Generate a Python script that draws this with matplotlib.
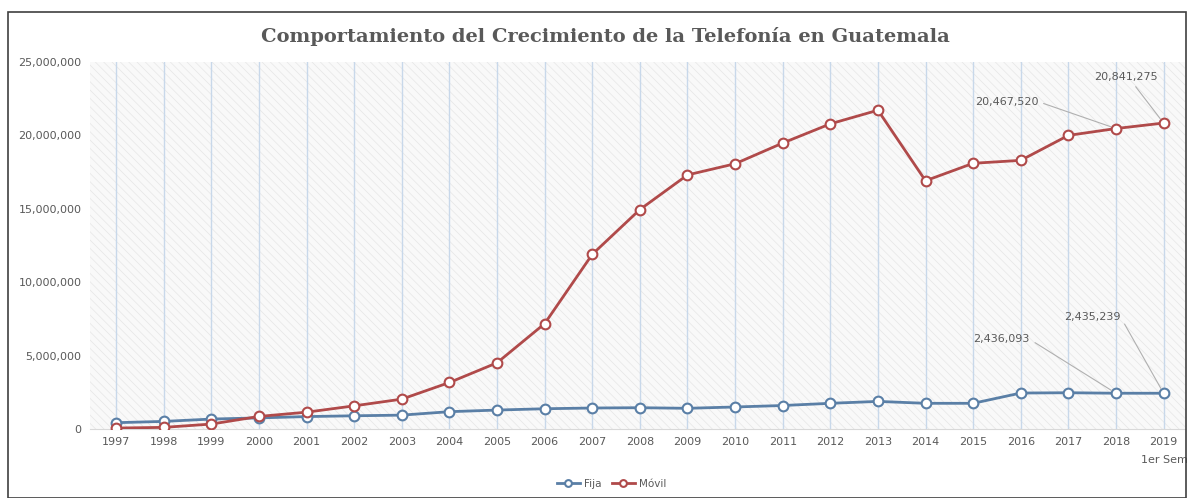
import numpy as np
import matplotlib
matplotlib.use('Agg')
import matplotlib.pyplot as plt
from matplotlib.patches import Rectangle
from matplotlib.ticker import FuncFormatter

# data
years = ['1997', '1998', '1999', '2000', '2001', '2002', '2003', '2004', '2005',
         '2006', '2007', '2008', '2009', '2010', '2011', '2012', '2013', '2014',
         '2015', '2016', '2017', '2018', '2019']
last_note = '1er Sem'
fija = [430000, 517000, 677000, 756000, 846000, 900000, 945000, 1180000, 1290000,
        1380000, 1430000, 1450000, 1410000, 1500000, 1600000, 1750000, 1880000,
        1750000, 1750000, 2450000, 2470000, 2436093, 2435239]
movil = [64000, 111000, 337000, 856000, 1146000, 1577000, 2035000, 3168000, 4510000,
         7178000, 11898000, 14949000, 17307000, 18068000, 19479000, 20787000, 21716000,
         16911000, 18100000, 18300000, 20000000, 20467520, 20841275]

col_fija = '#5a7fa6'
col_movil = '#b04a4a'
txt_col = '#595959'

matplotlib.rcParams['hatch.linewidth'] = 0.5
matplotlib.rcParams['hatch.color'] = '#e6e6e6'

fig = plt.figure(figsize=(11.92, 4.98), dpi=100)
# outer frame
fig.patches.append(Rectangle((8 / 1192, 0.0), 1178 / 1192, 1 - 12 / 498,
                             transform=fig.transFigure, fill=False,
                             edgecolor='#404040', linewidth=1.2))

ax = fig.add_axes([90 / 1192, 1 - 429 / 498, 1095 / 1192, 367 / 498])
x = np.arange(len(years))

# hatched light-grey background of the plot area
ax.set_facecolor('#f9f9f9')
ax.add_patch(Rectangle((0, 0), 1, 1, transform=ax.transAxes, facecolor='none',
                       edgecolor='#e6e6e6', hatch='\\\\\\\\', linewidth=0, zorder=0))

for xi in x:
    ax.axvline(xi, color='#c8d8ea', linewidth=1.0, zorder=1)

ax.plot(x, fija, color=col_fija, linewidth=2, marker='o', markersize=7,
        markerfacecolor='white', markeredgecolor=col_fija, markeredgewidth=1.5,
        label='Fija', zorder=3)
ax.plot(x, movil, color=col_movil, linewidth=2, marker='o', markersize=7,
        markerfacecolor='white', markeredgecolor=col_movil, markeredgewidth=1.5,
        label='Móvil', zorder=3)

ax.set_xlim(-0.55, 22.45)
ax.set_ylim(0, 25000000)
ax.set_yticks(np.arange(0, 25000001, 5000000))
ax.yaxis.set_major_formatter(FuncFormatter(lambda v, p: '{:,.0f}'.format(v)))
ax.set_xticks(x)
ax.set_xticklabels(years)
ax.tick_params(axis='both', length=0, labelsize=8, colors=txt_col, pad=6)
ax.text(22.5, -0.072, last_note, transform=ax.get_xaxis_transform(),
        ha='right', va='top', fontsize=8, color=txt_col)

for s in ['top', 'right', 'left']:
    ax.spines[s].set_visible(False)
ax.spines['bottom'].set_color('#d9d9d9')


def leader(text, xy, xytext, relpos):
    ax.annotate(text, xy=xy, xytext=xytext, fontsize=8, color=txt_col,
                ha='center', va='center',
                arrowprops=dict(arrowstyle='-', color='#b0b0b0', linewidth=0.8,
                                relpos=relpos, shrinkA=2, shrinkB=4))


# leader-line labels
leader('20,467,520', (21, movil[21]), (18.7, 22300000), (1, 0.5))
leader('20,841,275', (22, movil[22]), (21.2, 24000000), (0.6, 0))
leader('2,436,093', (21, fija[21]), (18.6, 6100000), (1, 0.5))
leader('2,435,239', (22, fija[22]), (20.5, 7650000), (1, 0.5))

fig.text(0.508, 1 - 37 / 498, 'Comportamiento del Crecimiento de la Telefonía en Guatemala',
         ha='center', va='center', fontsize=14, fontweight='bold',
         family='DejaVu Serif', color=txt_col)

fig.legend(loc='center', bbox_to_anchor=(0.513, 1 - 484 / 498), ncol=2, frameon=False,
           fontsize=7.5, labelcolor=txt_col, handlelength=2.2, columnspacing=1.0,
           handletextpad=0.4, markerscale=0.7)

fig.savefig('out.png', dpi=100)
